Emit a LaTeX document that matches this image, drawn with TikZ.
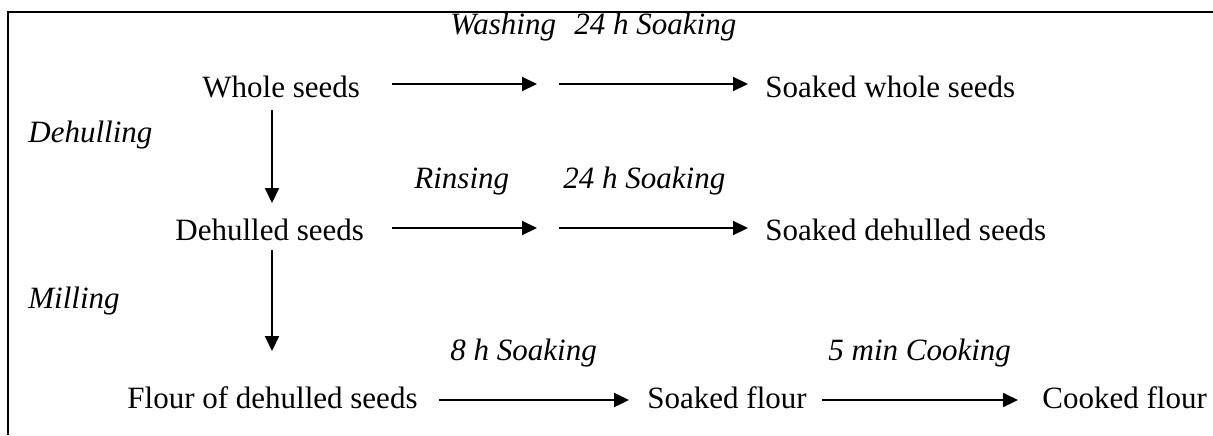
\documentclass[tikz,border=0pt]{standalone}
\usepackage{fontspec}
\setmainfont{Liberation Serif}
\usetikzlibrary{arrows.meta}
\begin{document}
\begin{tikzpicture}[x=0.5pt,y=-0.5pt,
  txt/.style={inner sep=0pt,anchor=base west,font=\fontsize{15.5}{18}\selectfont},
  lbl/.style={txt,font=\fontsize{15.5}{18}\selectfont\itshape},
  flow/.style={line width=1pt,-{Triangle[length=7.5pt,width=7pt]}},
  frame/.style={line width=0.9pt}]
\useasboundingbox (0,0) rectangle (1213,435);
% open frame: top and left edges
\coordinate (ftl) at (8,12);
\coordinate (ftr) at (1213,12);
\coordinate (fbl) at (8,435);
\draw[frame] (ftr) -- (ftl) -- (fbl);

% products
\node[txt] (whole)   at (202,97)  {Whole seeds};
\node[txt] (swhole)  at (765,97)  {Soaked whole seeds};
\node[txt] (dehull)  at (175,240) {Dehulled seeds};
\node[txt] (sdehull) at (765,240) {Soaked dehulled seeds};
\node[txt] (flour)   at (127,408) {Flour of dehulled seeds};
\node[txt] (sflour)  at (647,408) {Soaked flour};
\node[txt] (cflour)  at (1042,408) {Cooked flour};

% treatment labels
\node[lbl] (wash)  at (450,34)  {Washing};
\node[lbl] (soak1) at (574,34)  {24 h Soaking};
\node[lbl] (rinse) at (414,188) {Rinsing};
\node[lbl] (soak2) at (563,188) {24 h Soaking};
\node[lbl] (dehl)  at (28,142)  {Dehulling};
\node[lbl] (mill)  at (28,308)  {Milling};
\node[lbl] (soak3) at (450,360) {8 h Soaking};
\node[lbl] (cook)  at (828,360) {5 min Cooking};

% arrow end points
\coordinate (a1s) at (392,84);  \coordinate (a1e) at (537,84);
\coordinate (a2s) at (559,84);  \coordinate (a2e) at (748,84);
\coordinate (b1s) at (392,228); \coordinate (b1e) at (537,228);
\coordinate (b2s) at (559,228); \coordinate (b2e) at (748,228);
\coordinate (v1s) at (272,110); \coordinate (v1e) at (272,203);
\coordinate (v2s) at (272,250); \coordinate (v2e) at (272,351);
\coordinate (c1s) at (439,400); \coordinate (c1e) at (629,400);
\coordinate (c2s) at (822,400); \coordinate (c2e) at (1018,400);

\draw[flow] (a1s) -- (a1e);
\draw[flow] (a2s) -- (a2e);
\draw[flow] (b1s) -- (b1e);
\draw[flow] (b2s) -- (b2e);
\draw[flow] (v1s) -- (v1e);
\draw[flow] (v2s) -- (v2e);
\draw[flow] (c1s) -- (c1e);
\draw[flow] (c2s) -- (c2e);
\end{tikzpicture}
\end{document}
